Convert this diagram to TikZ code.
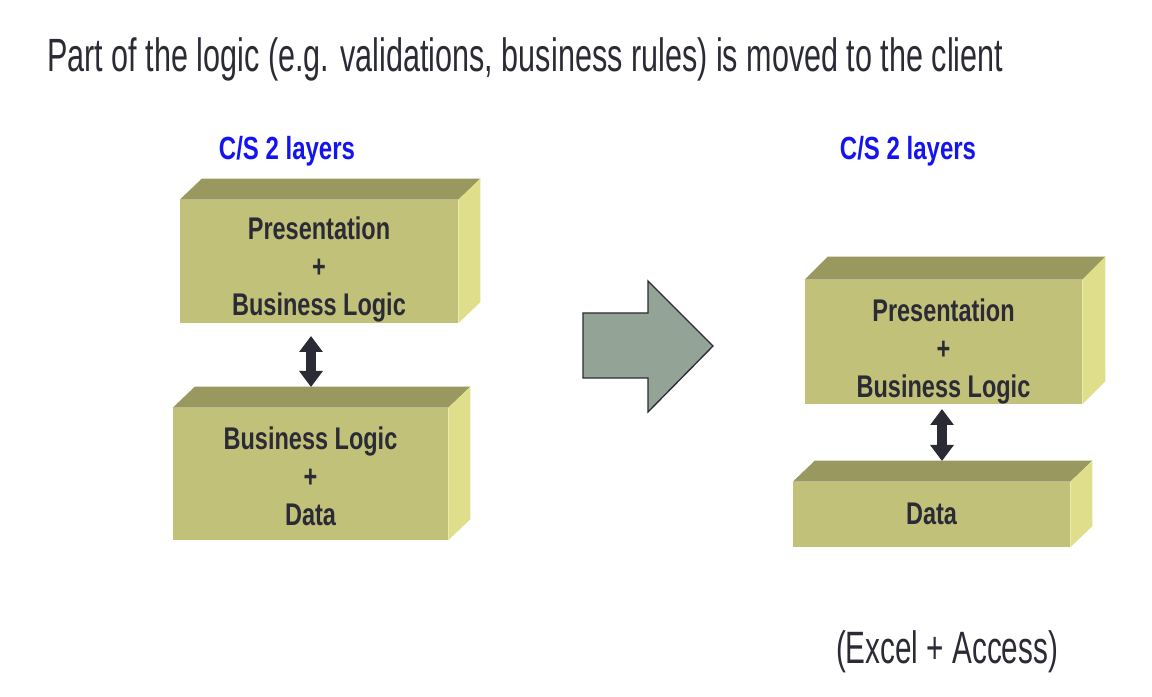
\documentclass[tikz,border=0pt]{standalone}
\usepackage{fontspec}
\usetikzlibrary{arrows.meta,calc}
\newfontfamily\narrowfont[FakeStretch=0.655]{Liberation Sans}
\newfontfamily\boxfont[FakeStretch=0.75]{Liberation Sans}
\definecolor{frontc}{HTML}{C2C17A}
\definecolor{topc}{HTML}{99985E}
\definecolor{sidec}{HTML}{DFDF8B}
\definecolor{txtc}{HTML}{2B2B36}
\definecolor{bigarrow}{HTML}{93A395}
\definecolor{labelblue}{HTML}{1414F0}
\tikzset{
  front/.style={fill=frontc, minimum width=#1, inner sep=0pt},
  boxtext/.style={inner sep=0pt, align=center, text=txtc,
    font=\boxfont\fontsize{23.5pt}{28.5pt}\selectfont\bfseries},
  topface/.style={fill=topc},
  sideface/.style={fill=sidec},
  dblarrow/.style={draw=txtc, line width=7pt,
    {Triangle[width=17pt,length=12pt]}-{Triangle[width=17pt,length=12pt]}},
  cslabel/.style={text=labelblue, font=\boxfont\fontsize{24pt}{28pt}\selectfont\bfseries, anchor=base}
}
\newcommand{\cuboid}[3]{% node name, dx, dy
  \fill[topface] (#1.north west) -- ++(#2,#3) -- ($(#1.north east)+(#2,#3)$) -- (#1.north east) -- cycle;
  \fill[sideface] (#1.north east) -- ++(#2,#3) -- ($(#1.south east)+(#2,#3)$) -- (#1.south east) -- cycle;
}
\begin{document}
\begin{tikzpicture}[x=0.75pt,y=0.75pt]
\useasboundingbox[fill=white] (0,0) rectangle (1152,696);
% title
\node[anchor=base west, inner sep=0pt, text=txtc, font=\narrowfont\fontsize{35pt}{40pt}\selectfont] (title) at (47,624)
  {Part of the logic (e.g. validations, business rules) is moved to the client};
% labels
\node[cslabel] (csl) at (287,536) {C/S 2 layers};
\node[cslabel] (csr) at (908,536) {C/S 2 layers};
% left boxes
\node[front=278*0.75pt, minimum height=123*0.75pt] (lt) at (319,434.5) {};
\cuboid{lt}{22}{21}
\node[boxtext] (ltt) at ($(lt.center)+(0,-8)$) {Presentation\\+\\Business Logic};
\node[front=275*0.75pt, minimum height=132*0.75pt] (lb) at (310.5,222) {};
\cuboid{lb}{22}{21}
\node[boxtext] (lbt) at ($(lb.center)+(0,-2)$) {Business Logic\\+\\Data};
\coordinate (la1) at (311,360);
\coordinate (la2) at (311,309);
\draw[dblarrow] (la1) -- (la2);
% big arrow
\draw[fill=bigarrow, draw=txtc, line width=1pt, line join=miter]
  (583,383) -- (648,383) -- (648,415) -- (713,350) -- (648,284) -- (648,318) -- (583,318) -- cycle;
% right boxes
\node[front=277*0.75pt, minimum height=124*0.75pt] (rt) at (943.5,354) {};
\cuboid{rt}{23}{23}
\node[boxtext] (rtt) at ($(rt.center)+(0,-9)$) {Presentation\\+\\Business Logic};
\node[front=277*0.75pt, minimum height=65*0.75pt] (rb) at (931.5,181.5) {};
\cuboid{rb}{22}{21}
\node[boxtext] (rbt) at ($(rb.center)+(0,1)$) {Data};
\coordinate (ra1) at (942,287);
\coordinate (ra2) at (942,235);
\draw[dblarrow] (ra1) -- (ra2);
% bottom note
\node[anchor=base, inner sep=0pt, text=txtc, font=\narrowfont\fontsize{34pt}{38pt}\selectfont] (note) at (947,33) {(Excel + Access)};
\end{tikzpicture}
\end{document}
